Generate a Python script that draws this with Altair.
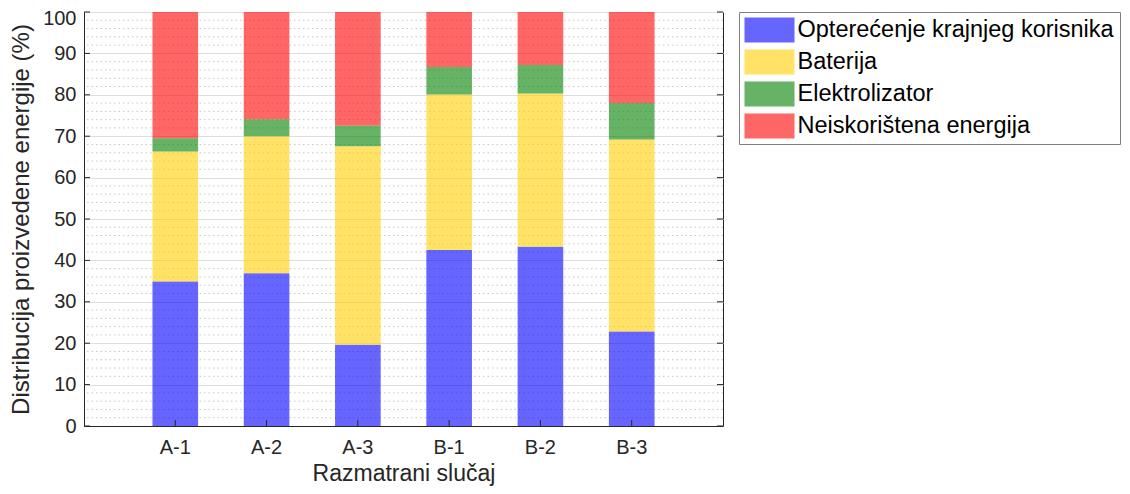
import altair as alt
import pandas as pd

cases = ["A-1", "A-2", "A-3", "B-1", "B-2", "B-3"]
components = ["Opterećenje krajnjeg korisnika", "Baterija", "Elektrolizator", "Neiskorištena energija"]
colors = ["#0000FF", "#FFCF00", "#008000", "#FF0000"]

load = [34.9, 36.9, 19.6, 42.5, 43.3, 22.8]
battery = [31.4, 33.1, 48.0, 37.6, 37.0, 46.4]
electrolyzer = [3.2, 4.1, 5.0, 6.6, 6.9, 8.8]
unused = [30.5, 25.9, 27.4, 13.3, 12.8, 22.0]

y_major = list(range(0, 101, 10))
y_minor = [v for v in range(2, 100, 2) if v % 10 != 0]

series = [load, battery, electrolyzer, unused]
rows = []
for ci, comp in enumerate(components):
    for i, case in enumerate(cases):
        rows.append({"case": case, "comp": comp, "order": ci, "value": series[ci][i]})
df = pd.DataFrame(rows)

W, H = 639, 414
FONT = "Liberation Sans"
YT = "Distribucija proizvedene energije (%)"
XT = "Razmatrani slučaj"

xscale = alt.Scale(domain=cases, paddingInner=0.5, paddingOuter=0.75)
yscale = alt.Scale(domain=[0, 100], nice=False)

xaxis = alt.Axis(title=XT, labelAngle=0, tickSize=0, titleFontSize=23,
                 labelPadding=11, titlePadding=5, grid=False)
yaxis = alt.Axis(title=YT, values=y_major,
                 tickSize=0, labelPadding=8, titlePadding=9, grid=True,
                 gridColor="#dedede", gridWidth=1,
                 labelOffset={"condition": {"test": "datum.value == 100", "value": 6}, "value": 0})

minor = alt.Chart(pd.DataFrame({"v": y_minor})).mark_rule(
    color="#c8c8c8", strokeDash=[1.5, 3], strokeWidth=1
).encode(y=alt.Y("v:Q", scale=yscale, axis=yaxis, title=YT))

bars = alt.Chart(df).mark_bar(opacity=0.6).encode(
    x=alt.X("case:N", scale=xscale, sort=cases, axis=xaxis, title=XT),
    y=alt.Y("value:Q", scale=yscale, stack="zero", axis=yaxis, title=YT),
    color=alt.Color("comp:N", scale=alt.Scale(domain=components, range=colors),
                    legend=alt.Legend(title=None, orient="none", legendX=655, legendY=0,
                                      symbolType="M-1,-1H3V1H-1Z", symbolSize=625,
                                      symbolOpacity=0.6, symbolStrokeWidth=0,
                                      labelOffset=28, labelFontSize=23.5, labelFont=FONT,
                                      labelColor="#000000", rowPadding=7, padding=5.5,
                                      strokeColor="#808080", fillColor="#ffffff",
                                      labelLimit=500)),
    order=alt.Order("order:Q", sort="ascending"),
)

ticks_left = alt.Chart(pd.DataFrame({"v": y_major})).mark_rule(color="#262626").encode(
    y=alt.Y("v:Q", scale=yscale, axis=yaxis, title=YT),
    x=alt.value(0), x2=alt.value(6))
ticks_right = alt.Chart(pd.DataFrame({"v": y_major})).mark_rule(color="#262626").encode(
    y=alt.Y("v:Q", scale=yscale, axis=yaxis, title=YT),
    x=alt.value(W - 6), x2=alt.value(W))
ticks_bottom = alt.Chart(pd.DataFrame({"c": cases})).mark_rule(color="#262626").encode(
    x=alt.X("c:N", scale=xscale, sort=cases, axis=xaxis, title=XT),
    y=alt.value(H - 6), y2=alt.value(H))

chart = alt.layer(minor, bars, ticks_left, ticks_right, ticks_bottom).properties(
    width=W, height=H,
    autosize=alt.AutoSizeParams(type="none"),
    padding={"left": 76, "top": 4, "right": 399, "bottom": 60},
).configure_view(stroke="#262626", strokeWidth=1).configure_axis(
    labelFont=FONT, titleFont=FONT, labelFontSize=20, titleFontSize=24,
    labelColor="#262626", titleColor="#262626", titleFontWeight="normal",
    domainColor="#262626", domain=True,
)

chart.save("out.html", embed_options={"renderer": "svg", "actions": False})
